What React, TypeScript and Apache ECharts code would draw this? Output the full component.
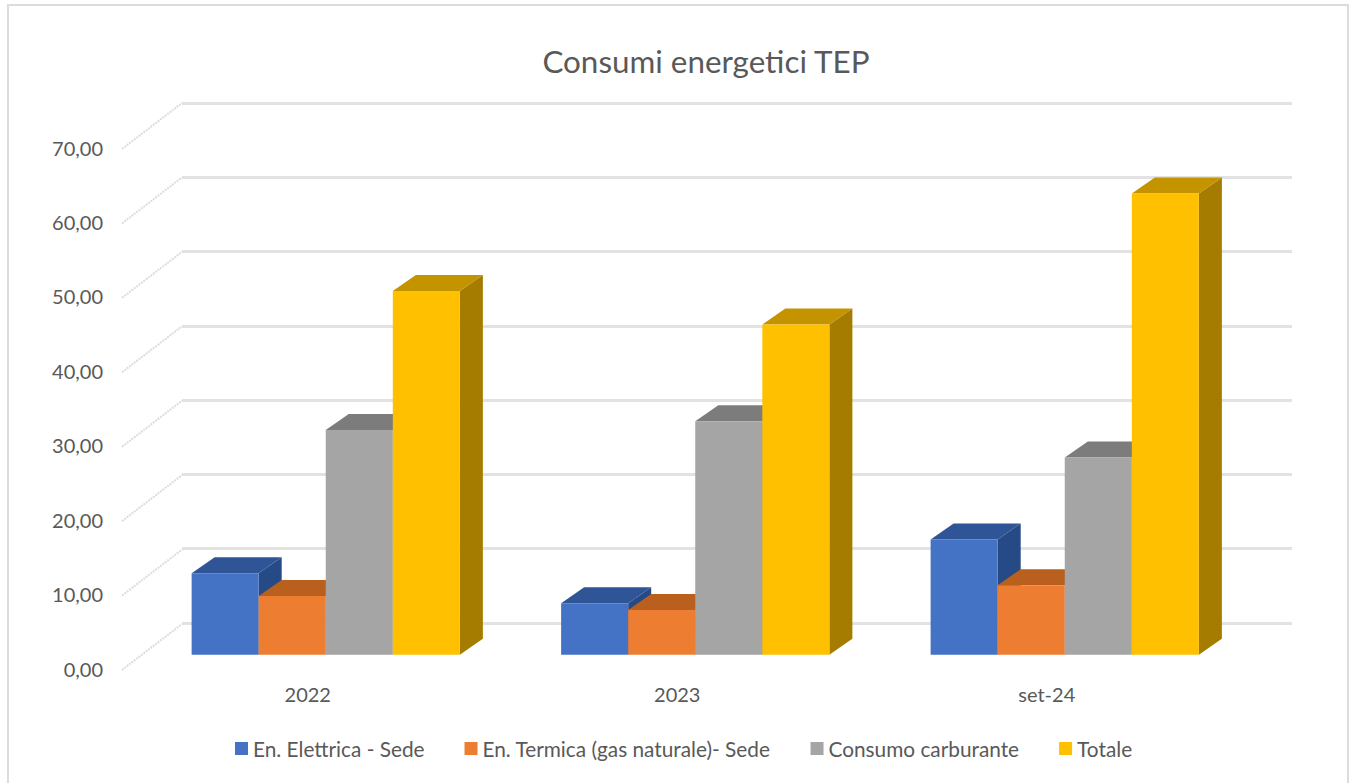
import React, { useEffect, useRef } from "react";
import * as echarts from "echarts";

const categories = ["2022", "2023", "set-24"];
const elettrica = [10.95, 6.9, 15.5];
const termica = [7.9, 6.0, 9.35];
const carburante = [30.2, 31.4, 26.5];
const totale = [48.9, 44.4, 62.0];
const yTicks = [0, 10, 20, 30, 40, 50, 60, 70];

const seriesDefs = [
  { name: "En. Elettrica - Sede", values: elettrica, front: "#4472C4", top: "#2F5597", side: "#264A85" },
  { name: "En. Termica (gas naturale)- Sede", values: termica, front: "#ED7D31", top: "#B9601F", side: "#A8561C" },
  { name: "Consumo carburante", values: carburante, front: "#A5A5A5", top: "#7C7C7C", side: "#6E6E6E" },
  { name: "Totale", values: totale, front: "#FFC000", top: "#C49300", side: "#A67C00" },
];

const TEXT = "#595959";
const FONT = "Lato";
const DEPTH_X = 23;
const DEPTH_Y = 16;

function barRenderer(seriesIndex: number, def: (typeof seriesDefs)[number]) {
  return (_p: any, api: any) => {
    const idx = api.value(0);
    const val = api.value(1);
    const band = api.size([1, 0])[0];
    const w = band * 0.1815;
    const center = api.coord([idx, 0])[0];
    const x0 = center - 2 * w + seriesIndex * w;
    const x1 = x0 + w;
    const yTop = api.coord([idx, val])[1];
    const yBase = api.coord([idx, 0])[1];
    return {
      type: "group",
      children: [
        {
          type: "polygon",
          shape: { points: [[x1, yTop], [x1 + DEPTH_X, yTop - DEPTH_Y], [x1 + DEPTH_X, yBase - DEPTH_Y], [x1, yBase]] },
          style: { fill: def.side },
        },
        {
          type: "polygon",
          shape: { points: [[x0, yTop], [x0 + DEPTH_X, yTop - DEPTH_Y], [x1 + DEPTH_X, yTop - DEPTH_Y], [x1, yTop]] },
          style: { fill: def.top },
        },
        {
          type: "rect",
          shape: { x: x0, y: yTop, width: w, height: yBase - yTop },
          style: { fill: def.front },
        },
      ],
    };
  };
}

function wallTickRenderer(_p: any, api: any) {
  const pt = api.coord([0, api.value(0)]);
  const x = pt[0] - api.size([1, 0])[0] / 2 - 1;
  const y = pt[1] + 1.5;
  return {
    type: "line",
    shape: { x1: x, y1: y, x2: x + 60, y2: y - 46 },
    style: { stroke: "#dcdcdc", lineWidth: 2, lineDash: [2, 1] },
  };
}

export default function App() {
  const ref = useRef<HTMLDivElement>(null);
  useEffect(() => {
    const chart = echarts.init(ref.current!, undefined, { renderer: "svg" });
    const noAxis = { show: false };
    chart.setOption({
      animation: false,
      backgroundColor: "#ffffff",
      textStyle: { fontFamily: FONT },
      title: {
        text: "Consumi energetici TEP",
        left: 701,
        top: 40,
        textAlign: "center",
        textStyle: { color: TEXT, fontSize: 31.4, fontWeight: "normal", fontFamily: FONT },
      },
      legend: {
        left: 230,
        top: 733,
        itemWidth: 13,
        itemHeight: 13,
        itemGap: 40,
        icon: "rect",
        data: seriesDefs.map((d) => d.name),
        textStyle: { color: TEXT, fontSize: 20.8, fontFamily: FONT },
      },
      graphic: [
        {
          type: "polyline",
          silent: true,
          z: -10,
          shape: { points: [[8, 783], [8, 5], [1348, 5], [1348, 783]] },
          style: { fill: "none", stroke: "#dcdcdc", lineWidth: 2 },
        },
      ],
      grid: [
        { left: 123, width: 1108.5, top: 147.5, height: 521 },
        { left: 182, width: 1110, top: 103, height: 520 },
        { left: 141, width: 1108.5, top: 134, height: 520.7 },
      ],
      xAxis: [
        {
          gridIndex: 0,
          type: "category",
          data: categories,
          axisLine: { show: false },
          axisTick: { show: false },
          axisLabel: { color: TEXT, fontSize: 20, fontFamily: FONT, margin: 15 },
        },
        { gridIndex: 1, type: "value", min: 0, max: 1, ...noAxis },
        { gridIndex: 2, type: "category", data: categories, ...noAxis },
      ],
      yAxis: [
        {
          gridIndex: 0,
          type: "value",
          min: 0,
          max: 70,
          interval: 10,
          axisLine: { show: false },
          axisTick: { show: false },
          splitLine: { show: false },
          axisLabel: {
            color: TEXT,
            fontSize: 20,
            fontFamily: FONT,
            margin: 20,
            formatter: (v: number) => v.toFixed(2).replace(".", ","),
          },
        },
        {
          gridIndex: 1,
          type: "value",
          min: 0,
          max: 70,
          interval: 10,
          axisLine: { show: false },
          axisTick: { show: false },
          axisLabel: { show: false },
          splitLine: { show: true, lineStyle: { color: "#e2e2e2", width: 3 } },
        },
        { gridIndex: 2, type: "value", min: 0, max: 70, interval: 10, ...noAxis },
      ],
      series: [
        {
          type: "custom",
          name: "wall",
          xAxisIndex: 0,
          yAxisIndex: 0,
          silent: true,
          clip: false,
          data: yTicks.map((v) => [v]),
          encode: { y: 0 },
          renderItem: wallTickRenderer,
        },
        ...seriesDefs.map((def, i) => ({
          type: "custom",
          name: def.name,
          xAxisIndex: 2,
          yAxisIndex: 2,
          clip: false,
          itemStyle: { color: def.front },
          encode: { x: 0, y: 1 },
          data: def.values.map((v, k) => [k, v]),
          renderItem: barRenderer(i, def),
        })),
      ],
    });
    return () => chart.dispose();
  }, []);
  return <div ref={ref} style={{ position: "absolute", left: 0, top: 0, width: 1349, height: 783 }} />;
}
